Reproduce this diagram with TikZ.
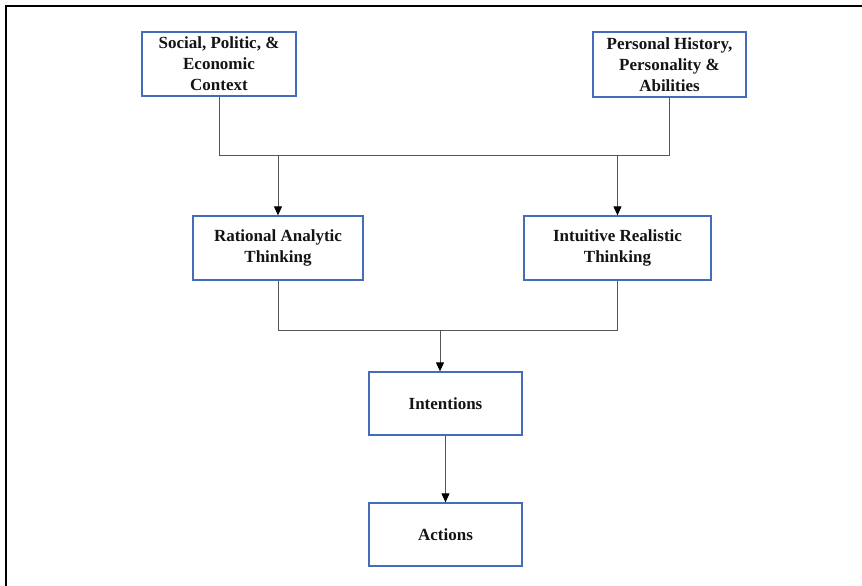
\documentclass[tikz,border=0pt]{standalone}
\usepackage{fontspec}
\setmainfont{Liberation Serif}
\usetikzlibrary{arrows.meta}
\definecolor{boxblue}{RGB}{68,108,186}
\definecolor{wire}{RGB}{85,85,85}
\definecolor{inkblack}{RGB}{20,20,20}
\begin{document}
\begin{tikzpicture}[x=1pt,y=-1pt,
  box/.style={draw=boxblue, line width=1.3pt, fill=white, align=center,
    text=inkblack, font=\fontsize{17}{21}\selectfont\bfseries, inner sep=0pt},
  wireline/.style={draw=wire, line width=1pt},
  arr/.style={wireline, -{Triangle[length=9pt,width=8pt,color=black]}},
  frameline/.style={draw=black, line width=2pt}]
  \useasboundingbox (0,0) rectangle (862,586);

  % outer frame (top and left edges)
  \draw[frameline] (862,6) -- (6,6) -- (6,586);

  % boxes
  \node[box, minimum width=154pt, minimum height=64pt] (soc) at (219,64)
    {Social, Politic, \&\\Economic\\Context};
  \node[box, minimum width=153pt, minimum height=65pt] (per) at (669.5,64.5)
    {Personal History,\\Personality \&\\Abilities};
  \node[box, minimum width=170pt, minimum height=64pt] (rat) at (278,248)
    {Rational Analytic\\Thinking};
  \node[box, minimum width=187pt, minimum height=64pt] (intu) at (617.5,248)
    {Intuitive Realistic\\Thinking};
  \node[box, minimum width=153pt, minimum height=63pt] (intent) at (445.5,403.5)
    {Intentions};
  \node[box, minimum width=153pt, minimum height=63pt] (act) at (445.5,534.5)
    {Actions};

  % junction points
  \coordinate (jl) at (219,155);
  \coordinate (jr) at (669.5,155);
  \coordinate (kl) at (278,330);
  \coordinate (kr) at (617.5,330);
  \coordinate (kmid) at (440,330);

  % context and personal factors feed both thinking modes
  \draw[wireline] (soc.south) -- (jl) -- (jr) -- (per.south);
  \draw[arr] (rat.north |- jl) -- (rat.north);
  \draw[arr] (intu.north |- jr) -- (intu.north);

  % both thinking modes lead to intentions
  \draw[wireline] (rat.south) -- (kl) -- (kr) -- (intu.south);
  \draw[arr] (kmid) -- (kmid |- intent.north);

  % intentions lead to actions
  \draw[arr] (intent.south) -- (act.north);
\end{tikzpicture}
\end{document}
